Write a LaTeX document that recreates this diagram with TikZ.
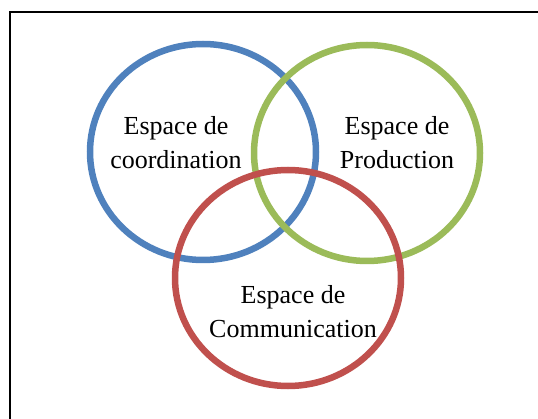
\documentclass[tikz,border=0pt]{standalone}
\usepackage{fontspec}
\setmainfont{Liberation Serif}
\usetikzlibrary{shapes.geometric}

\definecolor{coordblue}{RGB}{79,129,189}
\definecolor{prodgreen}{RGB}{155,187,89}
\definecolor{commred}{RGB}{192,80,77}

\begin{document}
\begin{tikzpicture}[x=1pt,y=-1pt]
        \tikzset{
            zone/.style={draw=#1, ellipse, line width=6.5pt, minimum width=226pt, minimum height=216pt, inner sep=0pt},
            zonetext/.style={font={\fontsize{26}{34}\selectfont}, black, align=center}
        }
        \useasboundingbox (0,0) rectangle (538,419);

        \draw[line width=2pt, black] (10,419) -- (10,12) -- (538,12);

        \node[zone=coordblue] (coordination) at (203,152) {};
        \node[zone=prodgreen] (production) at (367,153) {};
        \node[zone=commred] (communication) at (288,278) {};

        \node[zonetext] (coordtext) at (176,143) {Espace de\\coordination};
        \node[zonetext] (prodtext) at (397,143) {Espace de\\Production};
        \node[zonetext] (commtext) at (293,312) {Espace de\\Communication};
    \end{tikzpicture}
\end{document}
